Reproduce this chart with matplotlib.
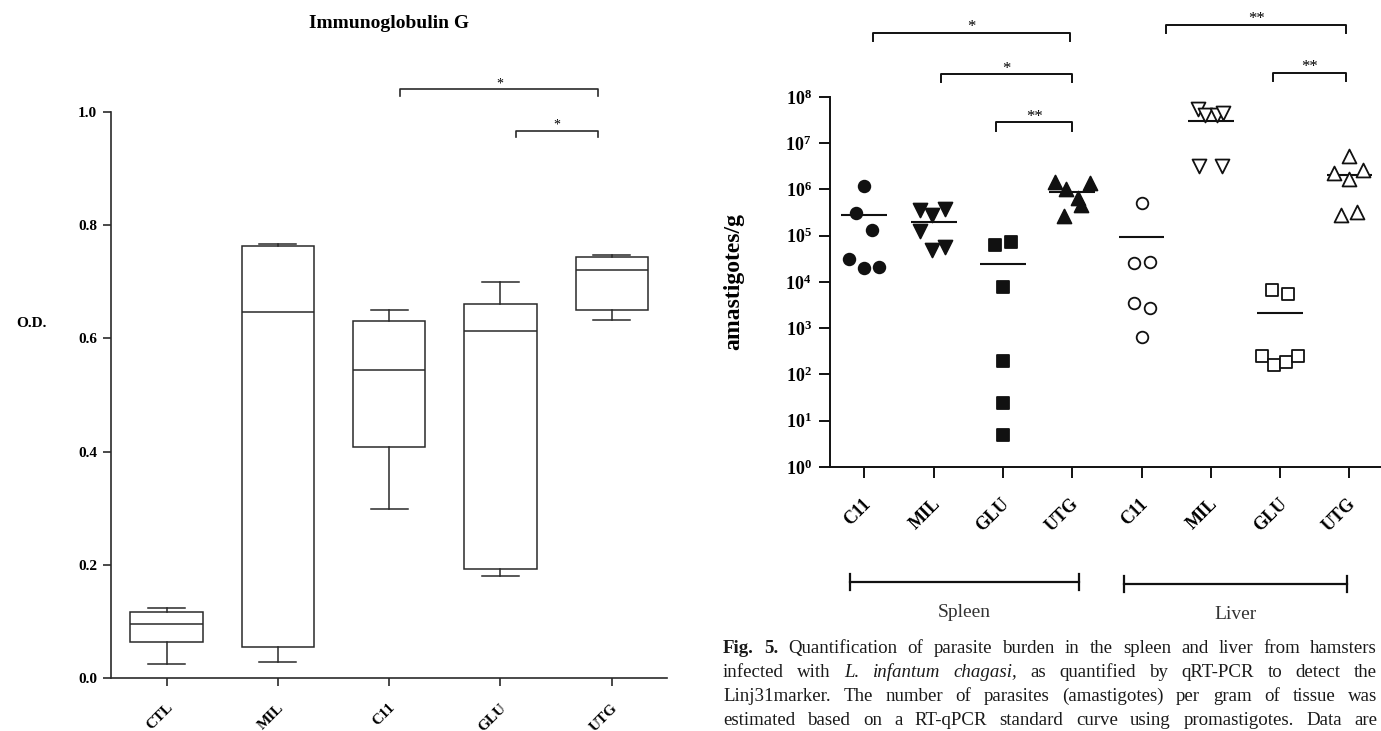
import numpy as np
import matplotlib
matplotlib.use('Agg')
import matplotlib.pyplot as plt
import matplotlib.transforms as mtransforms
from matplotlib.ticker import NullLocator

plt.rcParams['font.family'] = 'Liberation Serif'
plt.rcParams['mathtext.fontset'] = 'custom'
plt.rcParams['mathtext.rm'] = 'Liberation Serif'
plt.rcParams['mathtext.bf'] = 'Liberation Serif:bold'

# ---- left panel: IgG (O.D.) box plots ----
igg_groups = ['CTL', 'MIL', 'C11', 'GLU', 'UTG']
igg_whislo = [0.025, 0.028, 0.299, 0.181, 0.632]
igg_q1 = [0.063, 0.055, 0.408, 0.193, 0.651]
igg_med = [0.096, 0.647, 0.545, 0.613, 0.720]
igg_q3 = [0.116, 0.763, 0.630, 0.661, 0.743]
igg_whishi = [0.124, 0.766, 0.651, 0.700, 0.747]
igg_yticks = [0.0, 0.2, 0.4, 0.6, 0.8, 1.0]
igg_sig_labels = ['*', '*']

# ---- right panel: parasite burden (amastigotes/g) ----
burden_groups = ['C11', 'MIL', 'GLU', 'UTG', 'C11', 'MIL', 'GLU', 'UTG']
spleen_c11 = [1.2e6, 3.1e5, 1.32e5, 3.1e4, 2.0e4, 2.1e4]
spleen_mil = [3.6e5, 2.8e5, 3.8e5, 1.26e5, 4.9e4, 5.8e4]
spleen_glu = [6.3e4, 7.4e4, 7.6e3, 195, 24, 4.9]
spleen_utg = [1.48e6, 1.02e6, 1.35e6, 6.6e5, 4.6e5, 2.6e5]
liver_c11 = [5.0e5, 2.6e4, 2.75e4, 3.5e3, 2.75e3, 660]
liver_mil = [5.4e7, 4.0e7, 4.0e7, 4.4e7, 3.2e6, 3.2e6]
liver_glu = [6.8e3, 5.5e3, 250, 162, 190, 250]
liver_utg = [5.2e6, 2.24e6, 2.57e6, 1.7e6, 2.8e5, 3.3e5]
burden_means = [2.8e5, 2.0e5, 2.4e4, 8.7e5, 9.3e4, 2.95e7, 2.1e3, 2.04e6]
burden_sig_labels = ['*', '*', '**', '**', '**']
organs = ['Spleen', 'Liver']

caption_lines = [
    'Fig. 5. Quantification of parasite burden in the spleen and liver from hamsters',
    'infected with L. infantum chagasi, as quantified by qRT-PCR to detect the',
    'Linj31marker. The number of parasites (amastigotes) per gram of tissue was',
    'estimated based on a RT-qPCR standard curve using promastigotes. Data are',
]

# horizontal scatter of the points inside each group (category units)
jitter = [
    [0, -0.127, 0.114, -0.222, 0, 0.209],
    [-0.19, -0.03, 0.165, -0.19, -0.03, 0.165],
    [-0.12, 0.12, 0, 0, 0, 0],
    [-0.255, -0.09, 0.254, 0.088, 0.12, -0.115],
    [0, -0.114, 0.12, -0.114, 0.12, 0],
    [-0.185, -0.09, 0.084, 0.17, -0.176, 0.16],
    [-0.115, 0.12, -0.255, -0.082, 0.088, 0.254],
    [0, -0.216, 0.203, 0, -0.114, 0.108],
]
markers = ['o', 'v', 's', '^', 'o', 'v', 's', '^']
msizes = [70, 100, 65, 100, 70, 100, 65, 100]
faces = ['#111111'] * 4 + ['white'] * 4

LC = '#2a2a2a'
W, H = 1381, 731

fig = plt.figure(figsize=(W / 100, H / 100), dpi=100)

# ================= left =================
ax1 = fig.add_axes([0.0803, 0.0725, 0.4030, 0.7743])
stats = []
for i in range(len(igg_groups)):
    stats.append(dict(label=igg_groups[i], whislo=igg_whislo[i], q1=igg_q1[i],
                      med=igg_med[i], q3=igg_q3[i], whishi=igg_whishi[i], fliers=[]))
lp = dict(color=LC, linewidth=1.1)
ax1.bxp(stats, positions=range(1, 6), widths=0.65, capwidths=0.33, patch_artist=True,
        showfliers=False,
        boxprops=dict(facecolor='white', edgecolor=LC, linewidth=1.1),
        medianprops=lp, whiskerprops=lp, capprops=lp)
ax1.set_xlim(0.5, 5.5)
ax1.set_ylim(0, 1.0)
ax1.spines['top'].set_visible(False)
ax1.spines['right'].set_visible(False)
for s in ['left', 'bottom']:
    ax1.spines[s].set_linewidth(1.2)
    ax1.spines[s].set_color(LC)
ax1.set_yticks(igg_yticks)
ax1.set_yticklabels(['%.1f' % v for v in igg_yticks], fontweight='bold', fontsize=11)
ax1.set_xticks(range(1, 6))
ax1.set_xticklabels(igg_groups, rotation=45, ha='right', va='center',
                    rotation_mode='anchor', fontweight='bold', fontsize=11)
ax1.tick_params(axis='both', direction='out', length=6, width=1.2, color=LC)
ax1.tick_params(axis='x', pad=14)
ax1.tick_params(axis='y', pad=4)
ax1.set_ylabel('O.D.', rotation=0, fontweight='bold', fontsize=11, ha='center', va='center')
ax1.yaxis.set_label_coords(-0.1435, 0.627)
ax1.text(0.5, 1.157, 'Immunoglobulin G', transform=ax1.transAxes, ha='center',
         va='center', fontweight='bold', fontsize=14)

igg_brackets = [(3.10, 4.88, 1.040), (4.14, 4.88, 0.966)]
for (x0, x1, y), lab in zip(igg_brackets, igg_sig_labels):
    ax1.plot([x0, x0, x1, x1], [y - 0.011, y, y, y - 0.011], color=LC, lw=1.2,
             clip_on=False)
    ax1.text((x0 + x1) / 2, y + 0.004, lab, ha='center', va='baseline', fontsize=10)

# ================= right =================
ax2 = fig.add_axes([0.6008, 0.3612, 0.4014, 0.5062])
ax2.set_yscale('log')
series = [spleen_c11, spleen_mil, spleen_glu, spleen_utg,
          liver_c11, liver_mil, liver_glu, liver_utg]
for i, vals in enumerate(series):
    xs = np.full(len(vals), i + 1.0) + np.array(jitter[i])
    ax2.scatter(xs, vals, marker=markers[i], s=msizes[i], facecolors=faces[i],
                edgecolors='#111111', linewidths=1.3, zorder=3, clip_on=False)
pos = np.arange(1, 9)
ax2.hlines(burden_means, pos - 0.33, pos + 0.33, color='#111111', lw=1.5, zorder=2)
ax2.set_xlim(0.5, 8.5)
ax2.set_ylim(1, 1e8)
ax2.spines['top'].set_visible(False)
ax2.spines['right'].set_visible(False)
for s in ['left', 'bottom']:
    ax2.spines[s].set_linewidth(1.4)
    ax2.spines[s].set_color('#111111')
ax2.set_yticks([10.0 ** k for k in range(9)])
ax2.set_yticklabels([r'$\mathbf{10^{%d}}$' % k for k in range(9)], fontsize=13)
ax2.yaxis.set_minor_locator(NullLocator())
ax2.set_xticks(pos)
ax2.set_xticklabels(burden_groups, rotation=45, ha='right', va='center',
                    rotation_mode='anchor', fontweight='bold', fontsize=13)
ax2.tick_params(axis='both', direction='out', length=8, width=1.4, color='#111111')
ax2.tick_params(axis='x', pad=17)
ax2.tick_params(axis='y', pad=5)
ax2.set_ylabel('amastigotes/g', fontweight='bold', fontsize=17)
ax2.yaxis.set_label_coords(-0.1546, 0.5)

off = mtransforms.ScaledTranslation(4 / 100, 0, fig.dpi_scale_trans)
for lbl in ax1.get_xticklabels() + ax2.get_xticklabels():
    lbl.set_transform(lbl.get_transform() + off)

bt = mtransforms.blended_transform_factory(ax2.transData, ax2.transAxes)
burden_brackets = [(1.13, 3.97, 1.174), (2.10, 4.00, 1.062), (2.90, 4.00, 0.931),
                   (5.36, 7.95, 1.195), (6.90, 7.95, 1.066)]
for (x0, x1, y), lab in zip(burden_brackets, burden_sig_labels):
    ax2.plot([x0, x0, x1, x1], [y - 0.022, y, y, y - 0.022], color='#111111', lw=1.4,
             transform=bt, clip_on=False)
    ax2.text((x0 + x1) / 2, y + 0.004, lab, ha='center', va='baseline', fontsize=12,
             transform=bt)

organ_spans = [(0.79, 4.10, -0.31), (4.75, 7.96, -0.317)]
for (x0, x1, y), name in zip(organ_spans, organs):
    ax2.plot([x0, x1], [y, y], color='#111111', lw=1.6, transform=bt, clip_on=False)
    for xe in (x0, x1):
        ax2.plot([xe, xe], [y - 0.022, y + 0.022], color='#111111', lw=1.6,
                 transform=bt, clip_on=False)
    ax2.text((x0 + x1) / 2, y - 0.083, name, ha='center', va='center', fontsize=14,
             color='#333333', transform=bt)

# ================= caption (justified lines) =================
cap_x0, cap_x1 = 723, 1377
cap_base = [653, 677, 701, 725]
bold_words = {(0, 0), (0, 1)}
ital_words = {(1, 2), (1, 3), (1, 4)}
renderer = fig.canvas.get_renderer()
for li, line in enumerate(caption_lines):
    words = line.split(' ')
    texts = []
    for wi, w in enumerate(words):
        t = fig.text(0, 1 - cap_base[li] / H, w, fontsize=13.6, va='baseline', ha='left',
                     fontweight='bold' if (li, wi) in bold_words else 'normal',
                     fontstyle='italic' if (li, wi) in ital_words else 'normal',
                     color='#1a1a1a')
        texts.append(t)
    widths = [t.get_window_extent(renderer=renderer).width for t in texts]
    gap = max(3.0, (cap_x1 - cap_x0 - sum(widths)) / (len(words) - 1))
    x = cap_x0
    for t, wd in zip(texts, widths):
        t.set_x(x / W)
        x += wd + gap

fig.savefig('out.png', dpi=100)
